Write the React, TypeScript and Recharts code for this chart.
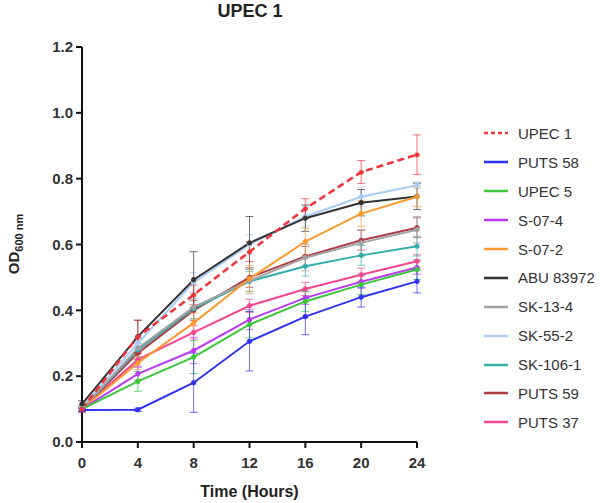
import React from "react";
import { LineChart, Line, XAxis, YAxis, ErrorBar } from "recharts";

const hours = [0, 4, 8, 12, 16, 20, 24];

const upec1 = [0.1, 0.32, 0.447, 0.578, 0.709, 0.82, 0.873];
const upec1Err = [0.01, 0.05, 0.03, 0.03, 0.03, 0.035, 0.06];
const puts58 = [0.097, 0.098, 0.18, 0.306, 0.381, 0.44, 0.488];
const puts58Err = [0.005, 0.005, 0.09, 0.09, 0.055, 0.03, 0.035];
const upec5 = [0.1, 0.184, 0.258, 0.357, 0.427, 0.478, 0.524];
const upec5Err = [0.005, 0.03, 0.05, 0.04, 0.03, 0.03, 0.03];
const s074 = [0.1, 0.207, 0.278, 0.372, 0.438, 0.487, 0.53];
const s074Err = [0.005, 0.02, 0.04, 0.03, 0.02, 0.02, 0.02];
const s072 = [0.1, 0.24, 0.362, 0.496, 0.609, 0.694, 0.745];
const s072Err = [0.005, 0.02, 0.03, 0.04, 0.04, 0.04, 0.03];
const abu83972 = [0.115, 0.32, 0.493, 0.605, 0.68, 0.727, 0.746];
const abu83972Err = [0.01, 0.05, 0.085, 0.08, 0.04, 0.04, 0.04];
const sk134 = [0.1, 0.285, 0.41, 0.49, 0.56, 0.605, 0.645];
const sk134Err = [0.005, 0.03, 0.04, 0.04, 0.04, 0.04, 0.04];
const sk552 = [0.105, 0.3, 0.485, 0.6, 0.685, 0.745, 0.78];
const sk552Err = [0.005, 0.02, 0.03, 0.03, 0.03, 0.03, 0.01];
const sk1061 = [0.1, 0.28, 0.405, 0.488, 0.534, 0.567, 0.595];
const sk1061Err = [0.005, 0.02, 0.03, 0.03, 0.03, 0.03, 0.03];
const puts59 = [0.1, 0.27, 0.4, 0.5, 0.564, 0.613, 0.651];
const puts59Err = [0.005, 0.02, 0.03, 0.03, 0.03, 0.03, 0.03];
const puts37 = [0.1, 0.25, 0.333, 0.414, 0.465, 0.508, 0.549];
const puts37Err = [0.005, 0.02, 0.02, 0.02, 0.02, 0.02, 0.02];

const yTicks = [0, 0.2, 0.4, 0.6, 0.8, 1.0, 1.2];

// name, key, colour, values, sd — in legend order
const series = [
  { name: "UPEC 1", key: "upec1", color: "#f0353a", values: upec1, err: upec1Err, dashed: true },
  { name: "PUTS 58", key: "puts58", color: "#2f33f0", values: puts58, err: puts58Err },
  { name: "UPEC 5", key: "upec5", color: "#3cc63c", values: upec5, err: upec5Err },
  { name: "S-07-4", key: "s074", color: "#b83cf0", values: s074, err: s074Err },
  { name: "S-07-2", key: "s072", color: "#fb9a2e", values: s072, err: s072Err },
  { name: "ABU 83972", key: "abu", color: "#333333", values: abu83972, err: abu83972Err },
  { name: "SK-13-4", key: "sk134", color: "#a3a3a3", values: sk134, err: sk134Err },
  { name: "SK-55-2", key: "sk552", color: "#a9cdf7", values: sk552, err: sk552Err },
  { name: "SK-106-1", key: "sk1061", color: "#36adad", values: sk1061, err: sk1061Err },
  { name: "PUTS 59", key: "puts59", color: "#ad3c44", values: puts59, err: puts59Err },
  { name: "PUTS 37", key: "puts37", color: "#f5468f", values: puts37, err: puts37Err },
];

const data = hours.map((h, i) => {
  const row: Record<string, number> = { t: h };
  series.forEach((s) => {
    row[s.key] = s.values[i];
    row[s.key + "Err"] = s.err[i];
  });
  return row;
});

const FONT = "'Liberation Sans', Arial, Helvetica, sans-serif";

const YLabel = () => (
  <text
    transform="translate(19, 244) rotate(-90)"
    textAnchor="middle"
    fontFamily={FONT}
    fontWeight="bold"
    fill="#222"
  >
    <tspan fontSize={15}>OD</tspan>
    <tspan fontSize={11} dy={4}>600 nm</tspan>
  </text>
);

export default function App() {
  // draw in reverse so UPEC 1 ends on top
  const drawOrder = [...series].slice(1).reverse().concat(series[0]);
  return (
    <div style={{ position: "absolute", left: 0, top: 0, width: 608, height: 503, background: "#fff", fontFamily: FONT }}>
      <div
        style={{
          position: "absolute",
          left: 150,
          width: 200,
          top: 1,
          textAlign: "center",
          fontSize: 18,
          fontWeight: "bold",
          color: "#222",
        }}
      >
        UPEC 1
      </div>
      <LineChart width={608} height={503} data={data} margin={{ top: 47, right: 191, bottom: 0, left: 0 }}>
        <XAxis
          dataKey="t"
          type="number"
          domain={[0, 24]}
          ticks={hours}
          axisLine={{ stroke: "#111", strokeWidth: 2 }}
          tickLine={{ stroke: "#111", strokeWidth: 2 }}
          tickSize={6}
          tickMargin={9}
          height={61}
          tick={{ fill: "#333", fontSize: 15, fontWeight: "bold", fontFamily: FONT }}
          label={{
            value: "Time (Hours)",
            position: "insideBottom",
            offset: 6,
            fill: "#222",
            fontSize: 16,
            fontWeight: "bold",
            fontFamily: FONT,
          }}
        />
        <YAxis
          type="number"
          domain={[0, 1.2]}
          ticks={yTicks}
          width={82}
          axisLine={{ stroke: "#111", strokeWidth: 2 }}
          tickLine={{ stroke: "#111", strokeWidth: 2 }}
          tickSize={6}
          tickMargin={3}
          tickFormatter={(v: number) => v.toFixed(1)}
          tick={{ fill: "#333", fontSize: 15, fontWeight: "bold", fontFamily: FONT }}
          label={{ content: () => <YLabel /> }}
        />
        {drawOrder.map((s) => (
          <Line
            key={s.key}
            dataKey={s.key}
            name={s.name}
            stroke={s.color}
            strokeWidth={s.dashed ? 2.5 : 2}
            strokeDasharray={s.dashed ? "7 4" : undefined}
            dot={{ r: 2.2, fill: s.color, stroke: s.color, strokeWidth: 1 }}
            activeDot={false}
            isAnimationActive={false}
          >
            <ErrorBar
              dataKey={s.key + "Err"}
              direction="y"
              width={4}
              stroke={s.color}
              strokeWidth={1}
              strokeOpacity={0.7}
              isAnimationActive={false}
            />
          </Line>
        ))}
      </LineChart>
      <div style={{ position: "absolute", left: 483, top: 119 }}>
        {series.map((s) => (
          <div key={s.key} style={{ height: 28.9, display: "flex", alignItems: "center" }}>
            <svg width={26} height={10} style={{ marginRight: 9 }}>
              <line
                x1={1}
                y1={5}
                x2={25}
                y2={5}
                stroke={s.color}
                strokeWidth={2.5}
                strokeDasharray={s.dashed ? "4 3" : undefined}
              />
            </svg>
            <span style={{ fontSize: 15, color: "#333", whiteSpace: "nowrap" }}>{s.name}</span>
          </div>
        ))}
      </div>
    </div>
  );
}
